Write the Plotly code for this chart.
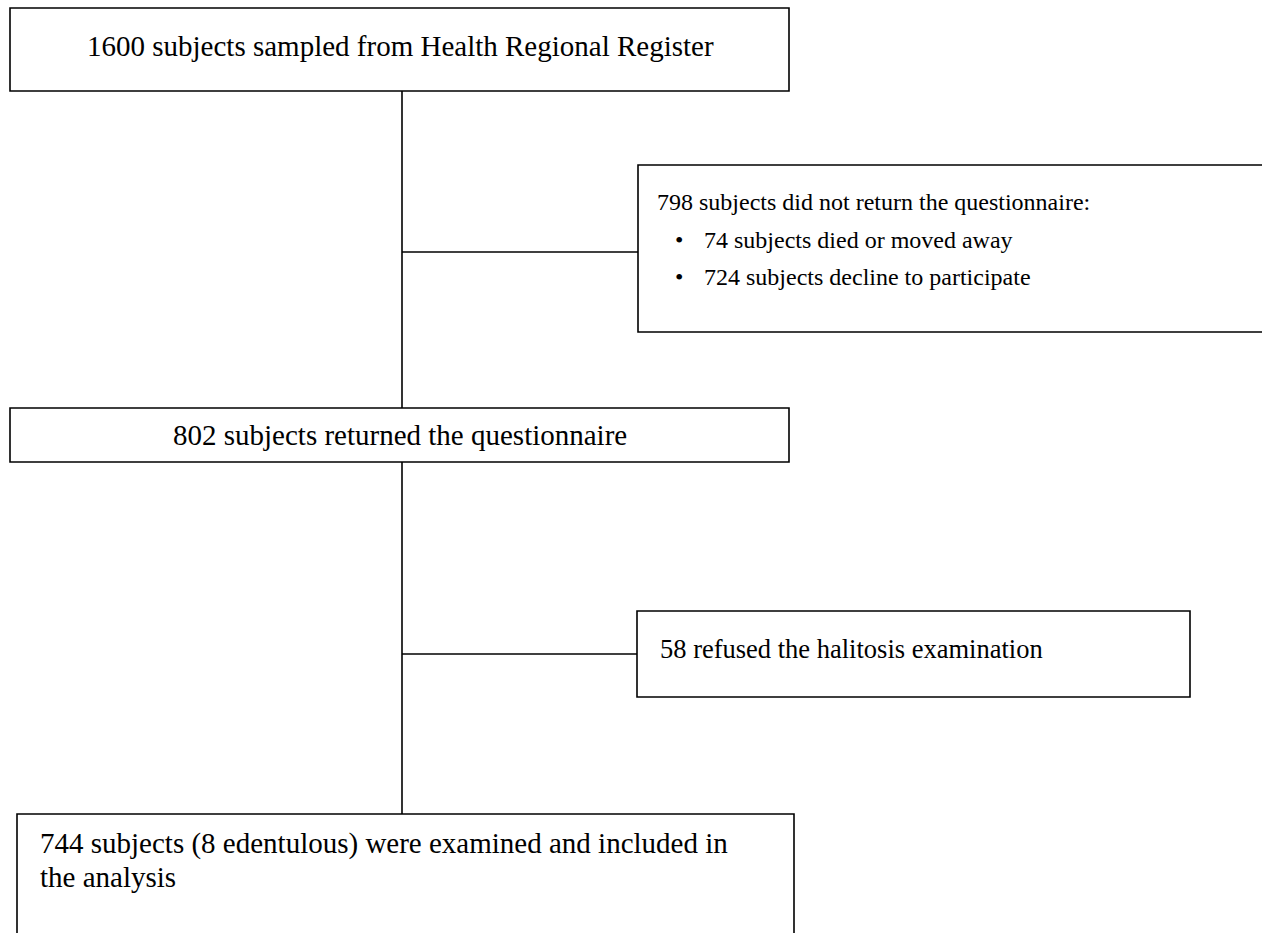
import plotly.graph_objects as go

# ---- content ----
main_texts = [
    "1600 subjects sampled from Health Regional Register",
    "802 subjects returned the questionnaire",
]
excl1_header = "798 subjects did not return the questionnaire:"
excl1_items = ["74 subjects died or moved away", "724 subjects decline to participate"]
excl2_text = "58 refused the halitosis examination"
final_lines = ["744 subjects (8 edentulous) were examined and included in", "the analysis"]

# ---- layout geometry (pixels) ----
W, H = 1262, 933
FAMILY = "Liberation Serif, Times New Roman, serif"
FONT = dict(family=FAMILY, size=29, color="black")
FONT_EX1 = dict(family=FAMILY, size=24, color="black")
FONT_EX2 = dict(family=FAMILY, size=26.5, color="black")
LW = 1.6

boxes = [
    (10, 8, 789, 91),      # box 1
    (638, 165, 1275, 332), # exclusion 1 (runs off right edge)
    (10, 408, 789, 462),   # box 2
    (637, 611, 1190, 697), # exclusion 2
    (17, 814, 794, 950),   # final (runs off bottom)
]
lines = [
    (402, 91, 402, 408),
    (402, 252, 638, 252),
    (402, 462, 402, 814),
    (402, 654, 637, 654),
]

fig = go.Figure()
shapes = []
for x0, y0, x1, y1 in boxes:
    shapes.append(dict(type="rect", x0=x0, y0=y0, x1=x1, y1=y1, xref="x", yref="y",
                       line=dict(color="black", width=LW), fillcolor="white", layer="below"))
for x0, y0, x1, y1 in lines:
    shapes.append(dict(type="line", x0=x0, y0=y0, x1=x1, y1=y1, xref="x", yref="y",
                       line=dict(color="black", width=LW)))

ann = []
def add(text, x, y, xanchor="left", font=FONT):
    ann.append(dict(text=text, x=x, y=y, xref="x", yref="y", xanchor=xanchor,
                    yanchor="middle", showarrow=False, font=font))

add(main_texts[0], 400, 46, "center")
add(main_texts[1], 400, 435, "center")
add(excl1_header, 655, 202, font=FONT_EX1)
for i, item in enumerate(excl1_items):
    yy = 240 + 37 * i
    add("•", 673, yy, font=FONT_EX1)
    add(item, 702, yy, font=FONT_EX1)
add(excl2_text, 658, 649, font=FONT_EX2)
for i, ln in enumerate(final_lines):
    add(ln, 38, 843 + 34 * i)

fig.update_layout(
    width=W, height=H, margin=dict(l=0, r=0, t=0, b=0),
    paper_bgcolor="white", plot_bgcolor="white",
    xaxis=dict(range=[0, W], visible=False, fixedrange=True),
    yaxis=dict(range=[H, 0], visible=False, fixedrange=True),
    shapes=shapes, annotations=ann, showlegend=False,
)
fig.write_html("out.html", config={"displayModeBar": False},
               post_script="document.body.style.margin='0px';document.body.style.overflow='hidden';")
